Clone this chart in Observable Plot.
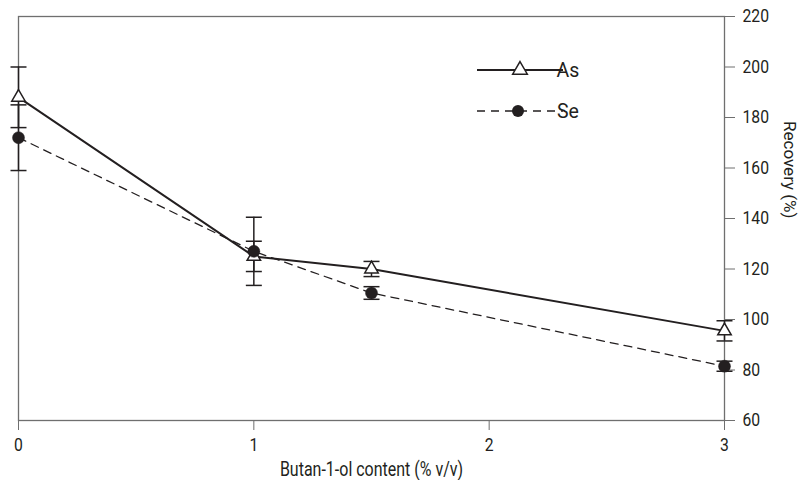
<!DOCTYPE html>
<html>
<head>
<meta charset="utf-8">
<script src="https://cdn.jsdelivr.net/npm/d3@7"></script>
<script src="https://cdn.jsdelivr.net/npm/@observablehq/plot@0.6"></script>
<style>
  html, body { margin: 0; padding: 0; background: #fff; }
  #chart { width: 801px; height: 480px; font-family: Roboto, "Noto Sans", sans-serif; }
</style>
</head>
<body>
<div id="chart"></div>
<script>
const contents = [0, 1, 1.5, 3];
const asValues = [188, 125, 120, 95.5];
const asErrors = [12, 6, 3, 4];
const seValues = [172, 127, 110.5, 81.5];
const seErrors = [13, 13.5, 2.5, 2];
const yTicks = [60, 80, 100, 120, 140, 160, 180, 200, 220];
const xTicks = [0, 1, 2, 3];
const seriesNames = ["As", "Se"];
const xLabel = "Butan-1-ol content (% v/v)";
const yLabel = "Recovery (%)";

const ink = "#231f20";
const frameGrey = "#6f6f6f";
const fontStack = "Roboto, 'Noto Sans', sans-serif";

const rows = [];
contents.forEach((c, i) => {
  rows.push({series: "As", x: c, y: asValues[i], err: asErrors[i]});
  rows.push({series: "Se", x: c, y: seValues[i], err: seErrors[i]});
});
const asRows = rows.filter(d => d.series === "As");
const seRows = rows.filter(d => d.series === "Se");

const capSymbol = {
  draw(ctx, size) {
    const w = Math.sqrt(size / Math.PI);
    ctx.moveTo(-w, 0);
    ctx.lineTo(w, 0);
  }
};

const plot = Plot.plot({
  width: 801,
  height: 480,
  marginLeft: 18,
  marginRight: 77,
  marginTop: 16,
  marginBottom: 60,
  style: {fontFamily: fontStack, fontSize: "18.5px", color: ink, background: "#fff"},
  x: {domain: [0, 3]},
  y: {domain: [60, 220]},
  marks: [
    Plot.frame({stroke: frameGrey, strokeWidth: 1.3}),
    Plot.axisX({ticks: xTicks, tickSize: 10, tickPadding: 7, tickFormat: d => String(d), label: null, stroke: frameGrey, fill: ink, fontSize: "18.5px"}),
    Plot.axisY({anchor: "right", ticks: yTicks, tickSize: 10, tickPadding: 8, tickFormat: d => String(d), label: null, stroke: frameGrey, fill: ink, fontSize: "18.5px"}),
    Plot.text([xLabel], {frameAnchor: "bottom", dy: 55, text: d => d, fill: ink, fontSize: 19.5}),
    Plot.text([yLabel], {frameAnchor: "right", dx: 65, rotate: 90, text: d => d, fill: ink, fontSize: 17}),
    // error bars
    Plot.ruleX(rows, {x: "x", y1: d => d.y - d.err, y2: d => d.y + d.err, stroke: ink, strokeWidth: 1.5}),
    Plot.dot(rows, {x: "x", y: d => d.y + d.err, symbol: capSymbol, r: 8, stroke: ink, strokeWidth: 1.5, fill: "none"}),
    Plot.dot(rows, {x: "x", y: d => d.y - d.err, symbol: capSymbol, r: 8, stroke: ink, strokeWidth: 1.5, fill: "none"}),
    // lines
    Plot.line(seRows, {x: "x", y: "y", stroke: ink, strokeWidth: 1.3, strokeDasharray: "8,6"}),
    Plot.line(asRows, {x: "x", y: "y", stroke: ink, strokeWidth: 2}),
    // markers
    Plot.dot(asRows, {x: "x", y: "y", symbol: "triangle", r: 5, fill: "#fff", stroke: ink, strokeWidth: 1.5}),
    Plot.dot(seRows, {x: "x", y: "y", r: 6, fill: ink, stroke: ink, strokeWidth: 0.5})
  ]
});

document.getElementById("chart").appendChild(plot);

// legend drawn inside the plot area
const svg = d3.select(plot);
const legend = svg.append("g").attr("class", "legend").attr("font-family", fontStack).attr("font-size", 19.5).attr("fill", ink);
const legendItems = [
  {name: seriesNames[0], y: 70, dash: null, width: 2},
  {name: seriesNames[1], y: 111, dash: "8,6", width: 1.3}
];
legendItems.forEach(item => {
  legend.append("line").attr("x1", 477).attr("x2", 563).attr("y1", item.y).attr("y2", item.y)
    .attr("stroke", ink).attr("stroke-width", item.width).attr("stroke-dasharray", item.dash);
  if (item.name === "As") {
    legend.append("path").attr("d", d3.symbol(d3.symbolTriangle2, 7 * 7 * Math.PI)())
      .attr("transform", `translate(520,${item.y})`).attr("fill", "#fff").attr("stroke", ink).attr("stroke-width", 1.5);
  } else {
    legend.append("circle").attr("cx", 518).attr("cy", item.y).attr("r", 6).attr("fill", ink);
  }
  legend.append("text").attr("x", 568).attr("y", item.y).attr("dy", "0.35em").text(item.name);
});

// condensed look of the original typeface (horizontal text only)
function condense(selection, factor) {
  selection.each(function () {
    const len = this.getComputedTextLength();
    if (len > 0) {
      this.setAttribute("textLength", (len * factor).toFixed(2));
      this.setAttribute("lengthAdjust", "spacingAndGlyphs");
    }
  });
}
condense(svg.selectAll('g[aria-label$="tick label"] text'), 0.85);
condense(svg.selectAll('g[aria-label="text"] text').filter(function () { return this.textContent === xLabel; }), 0.82);
</script>
</body>
</html>
